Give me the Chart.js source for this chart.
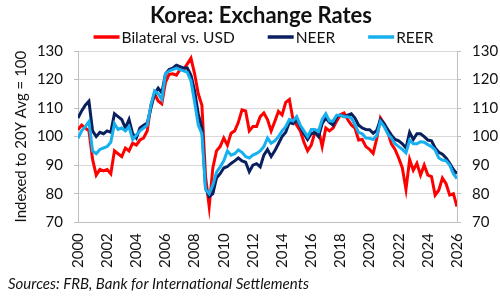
<!DOCTYPE html>
<html>
<head>
<meta charset="utf-8">
<script src="https://cdn.jsdelivr.net/npm/chart.js@4.4.1/dist/chart.umd.min.js"></script>
<style>
  html, body { margin: 0; padding: 0; background: #fff; }
  #wrap { width: 500px; height: 303px; }
</style>
</head>
<body>
<div id="wrap"><canvas id="fx_chart"></canvas></div>
<script>
// quarterly readings, first point = 2000 Q1, last point = 2026 Q1
var startYear = 2000;
var perYear = 4;

var bilateral = [
  102.4, 104, 103, 102,
  92, 86.5, 88.5, 88,
  88.5, 87, 95, 94,
  93, 96, 95, 97.7,
  97, 98.8, 99.5, 102,
  111, 115, 112.5, 111.5,
  119, 121.8, 122, 121.5,
  123.5, 123.5, 125.5, 127.5,
  122, 115, 111, 86,
  75.5, 89, 95, 96.5,
  99.5, 97, 101.2, 102,
  105, 109.4, 109, 102,
  103.5, 103.5, 107, 108.3,
  106, 102, 105.3, 108.8,
  107.6, 112, 113, 106,
  104, 102, 98, 95,
  97, 101.5, 102.4, 96.5,
  103, 102, 103, 105.5,
  107.7, 108.3, 106, 104.1,
  103, 98.8, 99, 96.5,
  95.5, 94.1, 99.4, 106.5,
  104.5, 101.5, 97.5, 95.5,
  92.5, 89, 81.5, 92,
  88.2, 90.6, 86.5, 90,
  86.5, 86, 79.5, 81.2,
  85.5, 83.5, 79.5, 80,
  75.5
];

var neer = [
  106.5, 109, 111, 112.4,
  102, 100, 101.5, 101,
  102, 101.5, 108, 107,
  106, 103, 106, 101,
  99.5, 103, 104, 104.7,
  110, 115, 117, 115.3,
  122, 123.5, 124, 125,
  124.5, 124, 124, 121.5,
  116, 108, 103, 82,
  79, 80, 85.5, 87,
  89, 89.5, 90.6, 91.5,
  92.5, 91.5, 91, 87.7,
  90, 90.5, 89.4, 93.5,
  95.5, 93, 95, 97.5,
  100, 101.5, 105, 104.5,
  106, 103.5, 101, 99,
  101, 101.5, 100, 104.5,
  106.5, 105, 104, 107,
  107.5, 107, 107.5, 108,
  106.5, 104, 103, 102.5,
  102.4, 101.2, 102.2, 106,
  104.5, 102.5, 100.5, 99,
  98.5, 97.5, 96, 101.5,
  99, 101, 101, 100,
  98.8, 98.5, 96, 94.5,
  93.8, 92.5, 90.6, 88.5,
  87
];

var reer = [
  99.4, 102, 103.5, 105.3,
  95, 94, 95.5, 96,
  96.5, 98, 104.5, 102.5,
  103, 102, 103.5, 99,
  100.5, 102, 103, 104,
  111, 116, 115, 113,
  122, 123, 123.5, 124,
  123.5, 123, 122.5, 119.5,
  112, 104, 101, 81.5,
  80, 83, 87.5, 89.4,
  91.5, 95, 93.5, 94,
  95.3, 94.5, 93, 92.5,
  93.5, 94.1, 95, 96.5,
  99.5, 97.7, 98.5, 100,
  102, 103.5, 106, 105.5,
  107, 104, 102, 100,
  102.5, 102.5, 101.8, 106,
  108, 105.5, 105.5, 107.5,
  107.5, 107, 107, 106.5,
  104.1, 101.5, 101, 99.5,
  99.4, 99, 100.5, 105.3,
  103.5, 101, 99.5, 97.5,
  96.5, 95.5, 94.3, 98.8,
  97.5, 97.5, 98.2, 98,
  97.2, 96.5, 95.3, 92.5,
  91.8, 91.5, 90, 87,
  85.3
];

var seriesNames = ['Bilateral vs. USD', 'NEER', 'REER'];
var seriesColors = ['#ff0000', '#0a1f5e', '#17b0ee'];
var yTicks = [70, 80, 90, 100, 110, 120, 130];
var xTickYears = [2000, 2002, 2004, 2006, 2008, 2010, 2012, 2014, 2016, 2018, 2020, 2022, 2024, 2026];

var fontFamily = "Lato, 'Noto Sans', sans-serif";

function toPoints(values) {
  var pts = [];
  for (var i = 0; i < values.length; i++) {
    pts.push({ x: startYear + i / perYear, y: values[i] });
  }
  return pts;
}

// title, legend and source note drawn by hand so the spacing matches
var decorations = {
  id: 'decorations',
  afterDraw: function (chart) {
    var ctx = chart.ctx;
    ctx.save();
    ctx.fillStyle = '#111';
    ctx.textBaseline = 'middle';

    ctx.font = "bold 22px " + fontFamily;
    ctx.textAlign = 'center';
    ctx.fillText('Korea: Exchange Rates', 261, 16);

    // legend row
    ctx.font = "15.5px " + fontFamily;
    ctx.textAlign = 'left';
    var lineLen = 26, gap = 2, itemGap = 33;
    var total = 0;
    for (var i = 0; i < seriesNames.length; i++) {
      total += lineLen + gap + ctx.measureText(seriesNames[i]).width;
    }
    total += itemGap * (seriesNames.length - 1);
    var x = 263.5 - total / 2;
    var y = 37;
    for (var j = 0; j < seriesNames.length; j++) {
      ctx.strokeStyle = seriesColors[j];
      ctx.lineWidth = 3.5;
      ctx.beginPath();
      ctx.moveTo(x, y);
      ctx.lineTo(x + lineLen, y);
      ctx.stroke();
      x += lineLen + gap;
      ctx.fillText(seriesNames[j], x, y + 1);
      x += ctx.measureText(seriesNames[j]).width + itemGap;
    }

    ctx.font = "italic 15px " + fontFamily;
    ctx.textBaseline = 'alphabetic';
    ctx.fillText('Sources: FRB, Bank for International Settlements', 8, 289);
    ctx.restore();
  }
};

var allSeries = [bilateral, neer, reer];
var datasets = [];
for (var s = 0; s < allSeries.length; s++) {
  datasets.push({
    label: seriesNames[s],
    data: toPoints(allSeries[s]),
    borderColor: seriesColors[s],
    backgroundColor: seriesColors[s],
    borderWidth: 3,
    pointRadius: 0,
    tension: 0,
    order: 3 - s
  });
}

var ctx = document.getElementById('fx_chart');
var chart = new Chart(ctx, {
  type: 'line',
  data: { datasets: datasets },
  options: {
    responsive: true,
    maintainAspectRatio: false,
    animation: false,
    layout: { padding: { left: 10, right: 0, top: 51, bottom: 32 } },
    plugins: {
      title: { display: false },
      legend: { display: false },
      tooltip: { enabled: false }
    },
    scales: {
      x: {
        type: 'linear',
        min: 2000,
        max: 2026,
        afterFit: function (axis) { axis.paddingLeft = 0; axis.paddingRight = 0; },
        grid: { display: false },
        border: { display: true, color: '#bfbfbf' },
        ticks: {
          stepSize: 2,
          maxRotation: 90,
          minRotation: 90,
          color: '#111',
          font: { family: fontFamily, size: 15 },
          callback: function (v) { return xTickYears.indexOf(v) >= 0 ? String(v) : ''; }
        }
      },
      y: {
        position: 'left',
        min: 70,
        max: 130,
        afterBuildTicks: function (axis) { axis.ticks = yTicks.map(function (v) { return { value: v }; }); },
        afterFit: function (axis) { axis.width = 68; },
        grid: { color: '#d9d9d9', tickLength: 4, tickColor: '#bfbfbf' },
        border: { color: '#bfbfbf' },
        ticks: { color: '#111', font: { family: fontFamily, size: 15 }, padding: 11 },
        title: {
          display: true,
          text: 'Indexed to 20Y Avg = 100',
          color: '#111',
          font: { family: fontFamily, size: 15 },
          padding: { top: 2, bottom: 4 }
        }
      },
      y2: {
        position: 'right',
        min: 70,
        max: 130,
        afterBuildTicks: function (axis) { axis.ticks = yTicks.map(function (v) { return { value: v }; }); },
        afterFit: function (axis) { axis.width = 43; },
        grid: { drawOnChartArea: false, tickLength: 4, tickColor: '#bfbfbf' },
        border: { color: '#bfbfbf' },
        ticks: { color: '#111', font: { family: fontFamily, size: 15 }, padding: 11 }
      }
    }
  },
  plugins: [decorations]
});
</script>
</body>
</html>
